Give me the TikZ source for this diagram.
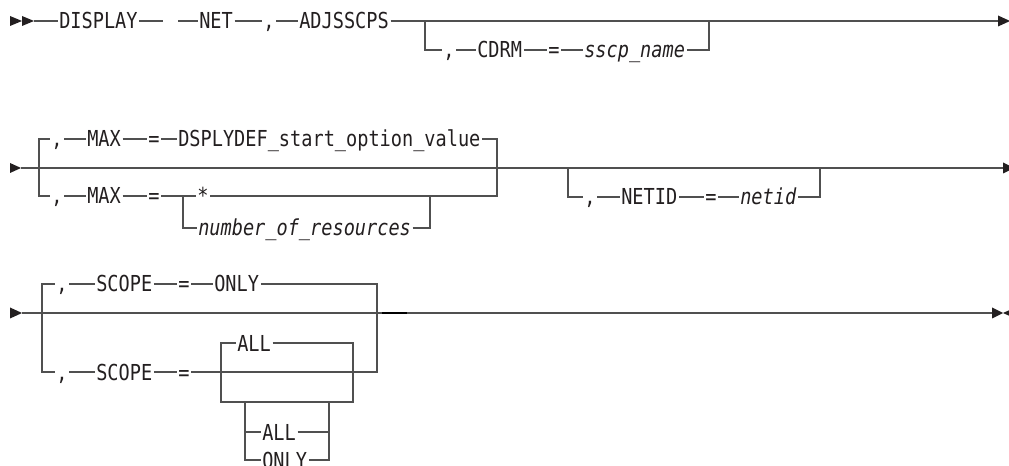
\documentclass[tikz,border=0pt]{standalone}
\usepackage{fontspec}
\newfontfamily\rr[FakeStretch=0.845,ItalicFont={DejaVu Sans Mono Oblique}]{DejaVu Sans Mono}
\definecolor{linec}{RGB}{80,80,80}
\definecolor{textc}{RGB}{35,31,32}
\begin{document}
\begin{tikzpicture}[x=0.75pt,y=-0.75pt,
  tok/.style={font=\rr\fontsize{16.5pt}{19pt}\selectfont, text=textc, inner xsep=1.125pt, inner ysep=0pt,
     text height=12pt, text depth=0pt, anchor=west},
  rail/.style={draw=linec, line width=1.05pt},
  tip/.style={fill=textc}]
\fill[white] (0,0) rectangle (1009,466);
\useasboundingbox (0,0) rectangle (1009,466);

% ---------------- Row 1 ----------------
\fill[tip] (10,16) -- (22,21) -- (10,26) -- cycle;
\fill[tip] (22,16) -- (34,21) -- (22,26) -- cycle;
\coordinate (a1) at (34,21);
\node[tok] (display) at (57.5,21) {DISPLAY};
\coordinate (gapA) at (163,21);
\coordinate (gapB) at (178,21);
\node[tok] (net) at (197.5,21) {NET};
\node[tok] (c1) at (261.5,21) {,};
\node[tok] (adj) at (297.5,21) {ADJSSCPS};
\coordinate (b1l) at (425,21);
\coordinate (b1r) at (709,21);
\coordinate (e1) at (998,21);
\node[tok] (c2) at (441.5,50) {,};
\node[tok] (cdrm) at (475.5,50) {CDRM};
\node[tok] (eq1) at (546.5,50) {=};
\node[tok] (sscp) at (582.5,50) {\itshape sscp\_name};
\draw[rail] (a1) -- (display.west);
\draw[rail] (display.east) -- (gapA);
\draw[rail] (gapB) -- (net.west);
\draw[rail] (net.east) -- (c1.west);
\draw[rail] (c1.east) -- (adj.west);
\draw[rail] (adj.east) -- (b1l) -- (b1r) -- (e1);
\draw[rail] (b1l) |- (c2.west);
\draw[rail] (c2.east) -- (cdrm.west);
\draw[rail] (cdrm.east) -- (eq1.west);
\draw[rail] (eq1.east) -- (sscp.west);
\draw[rail] (sscp.east) -| (b1r);
\fill[tip] (998,15.5) -- (1010,21) -- (998,26.5) -- cycle;

% ---------------- Row 2 ----------------
\fill[tip] (10,163) -- (21,168) -- (10,173) -- cycle;
\coordinate (a2) at (21,168);
\coordinate (j2l) at (39,168);
\coordinate (j2r) at (497,168);
\node[tok] (c3) at (49.5,139) {,};
\node[tok] (max1) at (85.5,139) {MAX};
\node[tok] (eq2) at (146.5,139) {=};
\node[tok] (dsply) at (176.5,139) {DSPLYDEF\_start\_option\_value};
\node[tok] (c4) at (49.5,196) {,};
\node[tok] (max2) at (85.5,196) {MAX};
\node[tok] (eq3) at (146.5,196) {=};
\coordinate (k1) at (183,196);
\coordinate (k2) at (430,196);
\node[tok] (star) at (195.5,196) {*};
\node[tok] (nres) at (196.5,228) {\itshape number\_of\_resources};
\coordinate (n1l) at (568,168);
\coordinate (n1r) at (820,168);
\coordinate (e2) at (1003,168);
\node[tok] (c5) at (582.5,197) {,};
\node[tok] (netid) at (619.5,197) {NETID};
\node[tok] (eq4) at (703.5,197) {=};
\node[tok] (netidv) at (738.5,197) {\itshape netid};
\draw[rail] (a2) -- (j2l) -- (j2r) -- (n1l) -- (n1r) -- (e2);
\draw[rail] (c3.west) -| (j2l) |- (c4.west);
\draw[rail] (c3.east) -- (max1.west);
\draw[rail] (max1.east) -- (eq2.west);
\draw[rail] (eq2.east) -- (dsply.west);
\draw[rail] (dsply.east) -| (j2r);
\draw[rail] (c4.east) -- (max2.west);
\draw[rail] (max2.east) -- (eq3.west);
\draw[rail] (eq3.east) -- (k1) -- (star.west);
\draw[rail] (k1) |- (nres.west);
\draw[rail] (star.east) -- (k2) -| (j2r);
\draw[rail] (nres.east) -| (k2);
\draw[rail] (n1l) |- (c5.west);
\draw[rail] (c5.east) -- (netid.west);
\draw[rail] (netid.east) -- (eq4.west);
\draw[rail] (eq4.east) -- (netidv.west);
\draw[rail] (netidv.east) -| (n1r);
\fill[tip] (1003,162.5) -- (1014,168) -- (1003,173.5) -- cycle;

% ---------------- Row 3 ----------------
\fill[tip] (10,307.5) -- (22,313) -- (10,318.5) -- cycle;
\coordinate (a3) at (22,313);
\coordinate (j3l) at (42,313);
\coordinate (j3r) at (377,313);
\coordinate (d1) at (382,313);
\coordinate (d2) at (407,313);
\coordinate (e3) at (992,313);
\node[tok] (c6) at (54.5,284) {,};
\node[tok] (scope1) at (94.5,284) {SCOPE};
\node[tok] (eq5) at (176.5,284) {=};
\node[tok] (only1) at (212.5,284) {ONLY};
\node[tok] (c7) at (54.5,372) {,};
\node[tok] (scope2) at (94.5,372) {SCOPE};
\node[tok] (eq6) at (176.5,372) {=};
\coordinate (lb1) at (221,372);
\coordinate (lb2) at (353,372);
\coordinate (lbb1) at (221,402);
\coordinate (lbb2) at (353,402);
\node[tok] (all1) at (235.5,343) {ALL};
\coordinate (s1) at (245,402);
\coordinate (s2) at (329,402);
\node[tok] (all2) at (260.5,432) {ALL};
\node[tok] (only2) at (260.5,460) {ONLY};
\draw[rail] (a3) -- (j3l) -- (j3r) -- (d1);
\draw[rail] (d2) -- (e3);
\draw[draw=black, line width=1.6pt] (d1) -- (d2);
\draw[rail] (c6.west) -| (j3l) |- (c7.west);
\draw[rail] (c6.east) -- (scope1.west);
\draw[rail] (scope1.east) -- (eq5.west);
\draw[rail] (eq5.east) -- (only1.west);
\draw[rail] (only1.east) -| (j3r);
\draw[rail] (c7.east) -- (scope2.west);
\draw[rail] (scope2.east) -- (eq6.west);
\draw[rail] (eq6.east) -- (lb1) -- (lb2) -| (j3r);
\draw[rail] (lb1) |- (all1.west);
\draw[rail] (all1.east) -| (lb2);
\draw[rail] (lb1) -- (lbb1) -- (lbb2) -- (lb2);
\draw[rail] (s1) |- (all2.west);
\draw[rail] (s1) |- (only2.west);
\draw[rail] (all2.east) -| (s2);
\draw[rail] (only2.east) -| (s2);
\fill[tip] (992,307.5) -- (1003,313) -- (992,318.5) -- cycle;
\fill[tip] (1003,313) -- (1013,308.5) -- (1013,317.5) -- cycle;
\end{tikzpicture}
\end{document}
